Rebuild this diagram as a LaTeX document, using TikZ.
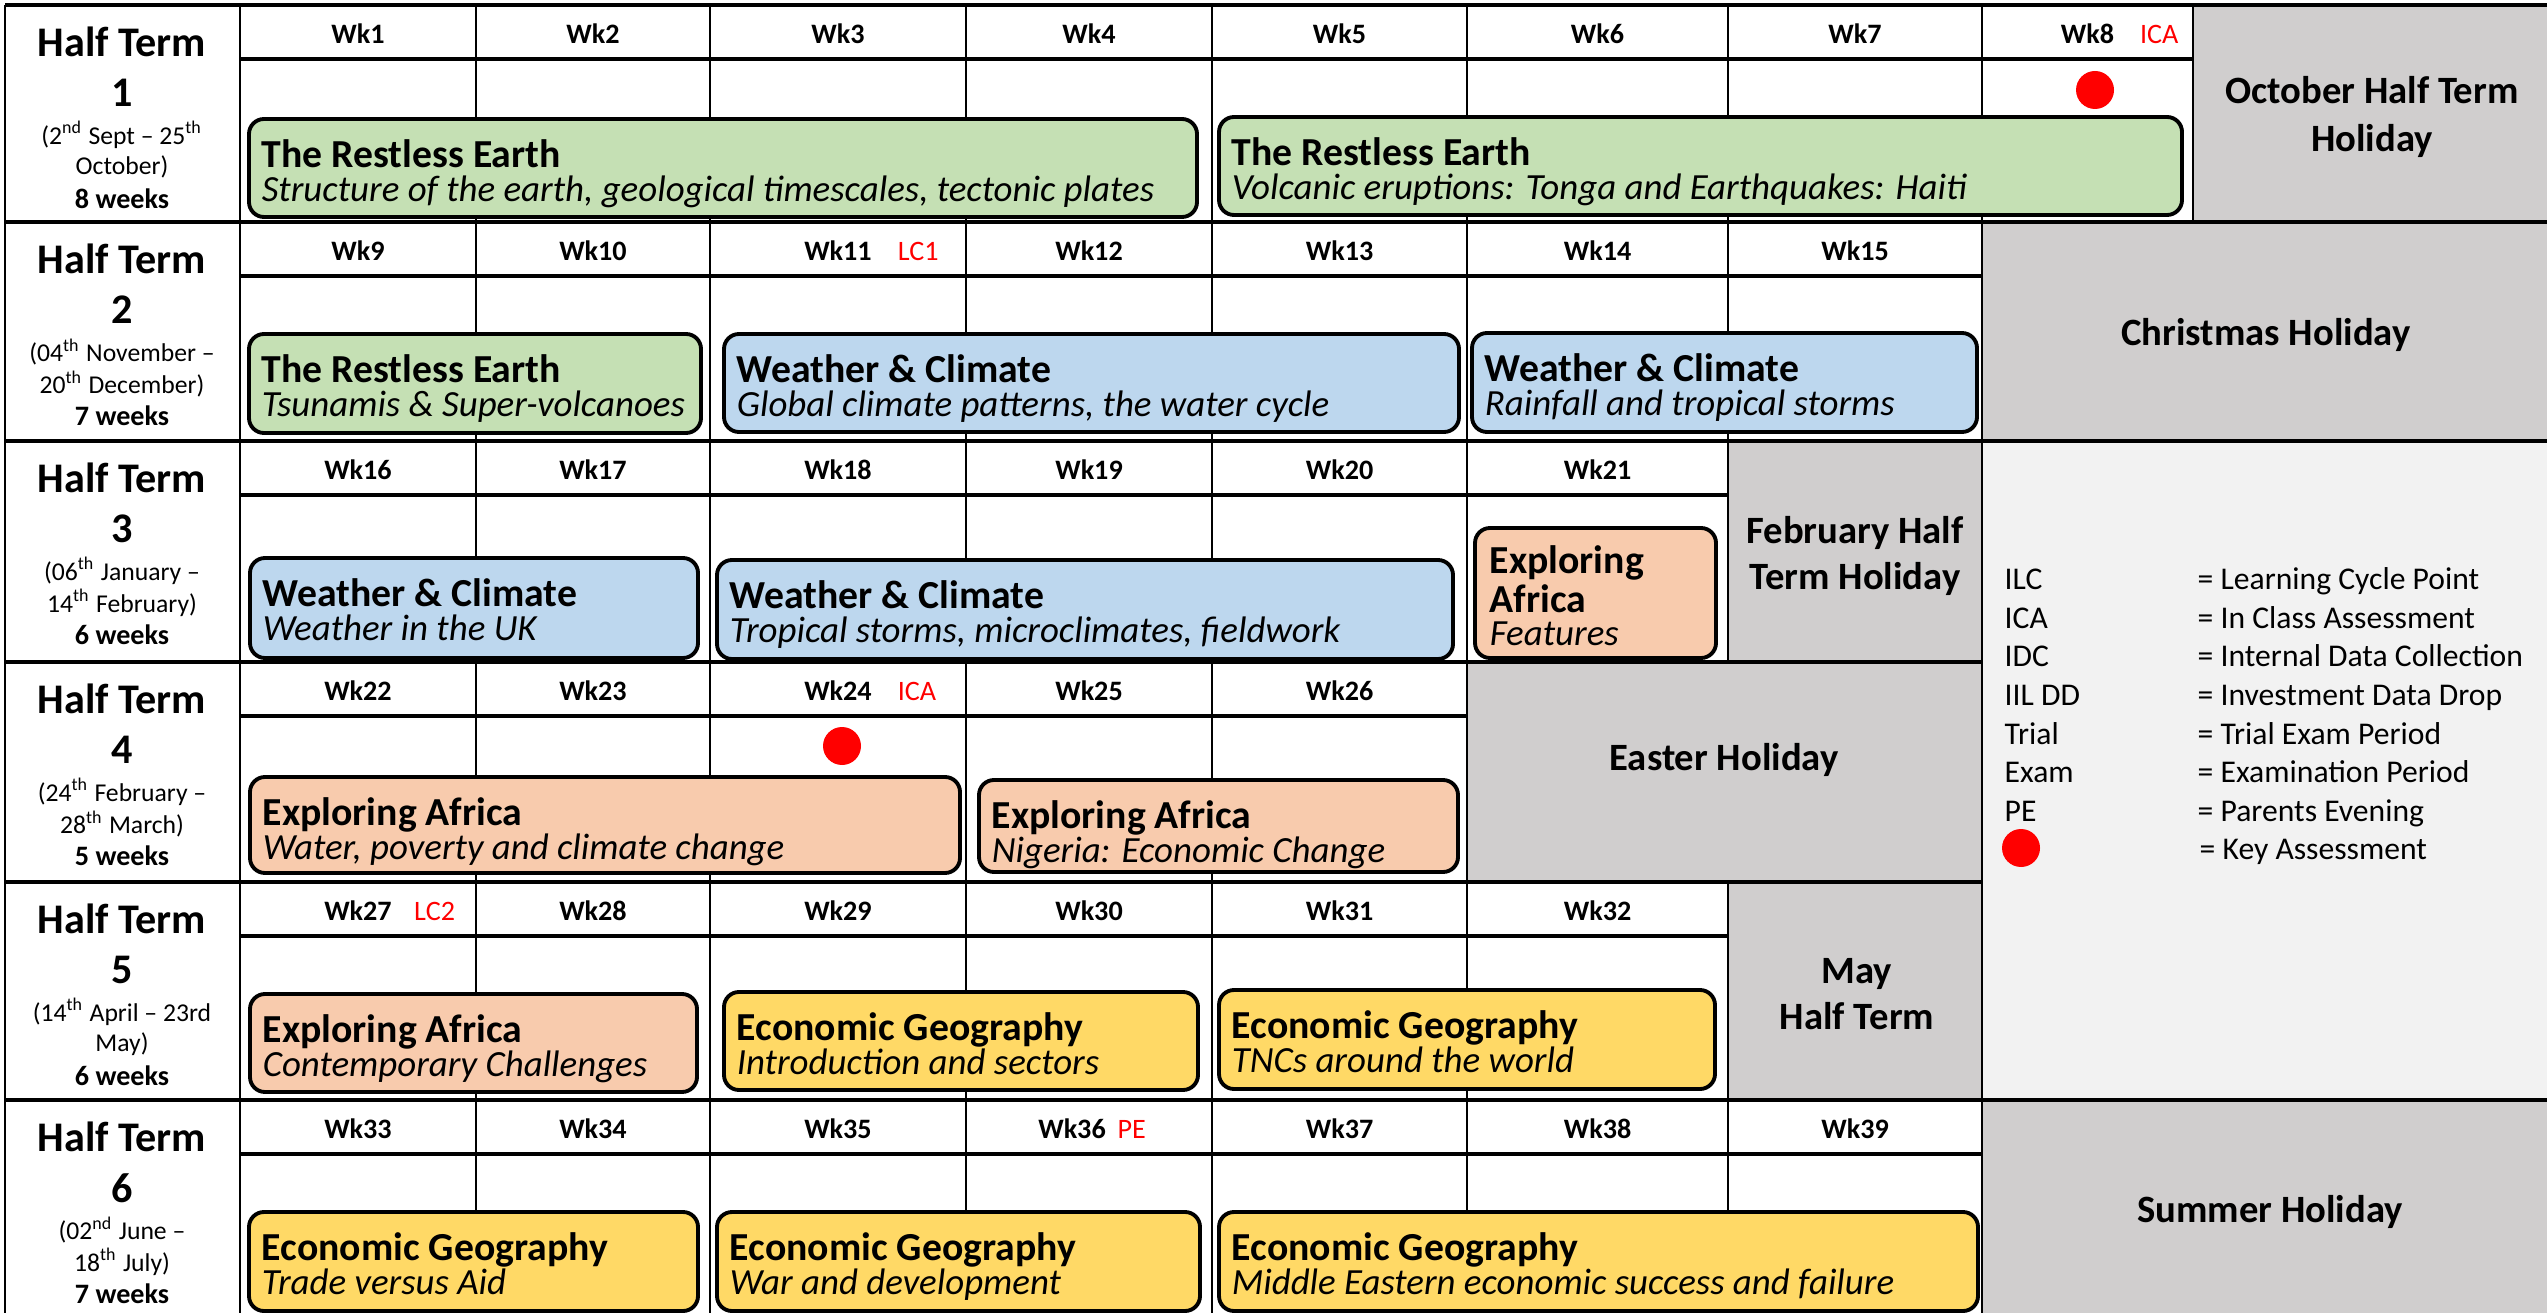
\documentclass[tikz,border=0pt]{standalone}
\usepackage{fontspec}
\setmainfont{Carlito}
\usetikzlibrary{positioning,fit}

\definecolor{earthgreen}{HTML}{C5E0B4}
\definecolor{climateblue}{HTML}{BDD7EE}
\definecolor{africapeach}{HTML}{F8CBAD}
\definecolor{econyellow}{HTML}{FFD966}
\definecolor{holidaygrey}{HTML}{D0CECE}
\definecolor{keygrey}{HTML}{F2F2F2}

\tikzset{
  gridline/.style={line width=0.6pt},
  rowline/.style={line width=0.9pt},
  topicbox/.style={draw, line width=1.1pt, rounded corners=1.5mm, inner sep=0pt},
  topictitle/.style={anchor=base west, inner sep=0pt, font=\bfseries\fontsize{11.3}{13}\selectfont},
  topicsub/.style={anchor=base west, inner sep=0pt, font=\itshape\fontsize{10.5}{13}\selectfont},
  wk/.style={inner sep=0pt, font=\bfseries\fontsize{8}{10}\selectfont},
  wktag/.style={inner sep=0pt, text=red, font=\fontsize{8}{10}\selectfont},
  termhead/.style={inner sep=0pt, font=\bfseries\fontsize{12}{14}\selectfont},
  termdate/.style={inner sep=0pt, font=\fontsize{7.3}{9}\selectfont},
  termweeks/.style={inner sep=0pt, font=\bfseries\fontsize{8}{10}\selectfont},
  holiday/.style={inner sep=0pt, align=center, font=\bfseries\fontsize{11}{13}\selectfont},
  keytext/.style={anchor=base west, inner sep=0pt, font=\fontsize{9}{10}\selectfont},
  keydot/.style={circle, fill=red, inner sep=0pt, minimum size=3.8mm},
}

%% name, x1, y1, x2, y2, colour, title, subtitle
\newcommand{\lessonblock}[8]{%
  \node[topicbox, fill=#6, fit={(#2,#3) (#4,#5)}] (#1) {};
  \node[topictitle] (#1-t) at ([shift={(14,50)}]#1.north west) {#7};
  \node[topicsub] (#1-s) at ([shift={(14,84)}]#1.north west) {#8};
}

\begin{document}
\begin{tikzpicture}[x=0.1mm,y=-0.1mm]
    \clip (0,0) rectangle (2547,1313);
    %% holidays and key
    \fill[holidaygrey] (2193,5) rectangle (2547,222);
    \fill[holidaygrey] (1982,222) rectangle (2547,441);
    \fill[holidaygrey] (1728,441) rectangle (1982,662);
    \fill[keygrey] (1982,441) rectangle (2547,1100);
    \fill[holidaygrey] (1467,662) rectangle (1982,882);
    \fill[holidaygrey] (1728,882) rectangle (1982,1100);
    \fill[holidaygrey] (1982,1100) rectangle (2547,1320);
    %% row lines
    \draw[rowline] (5,5) -- (2547,5);
    \draw[rowline] (5,222) -- (2547,222);
    \draw[rowline] (5,441) -- (2547,441);
    \draw[rowline] (5,662) -- (1982,662);
    \draw[rowline] (5,882) -- (1982,882);
    \draw[rowline] (5,1100) -- (2547,1100);
    \draw[gridline] (5,5) -- (5,1320);
    \draw[gridline] (240,5) -- (240,1320);
    \draw[gridline] (1982,5) -- (1982,1320);
    %% week columns and header line of each half term
    \foreach \rowy/\rowb/\cols/\endx in {5/222/{476,710,966,1212,1467,1728,2193}/2193,
        222/441/{476,710,966,1212,1467,1728}/1982,
        441/662/{476,710,966,1212,1467,1728}/1728,
        662/882/{476,710,966,1212,1467}/1467,
        882/1100/{476,710,966,1212,1467,1728}/1728,
        1100/1320/{476,710,966,1212,1467,1728}/1982}{
      \foreach \x in \cols \draw[gridline] (\x,\rowy) -- (\x,\rowb);
      \draw[rowline] (240,\rowy+54) -- (\endx,\rowy+54);
    }
    %% half term labels
    \foreach \rowy/\num/\dfrom/\dto/\len in {
        5/1/{(2\textsuperscript{nd} Sept -- 25\textsuperscript{th}}/{October)}/8,
        222/2/{(04\textsuperscript{th} November --}/{20\textsuperscript{th} December)}/7,
        441/3/{(06\textsuperscript{th}  January --}/{14\textsuperscript{th} February)}/6,
        662/4/{(24\textsuperscript{th} February --}/{28\textsuperscript{th} March)}/5,
        882/5/{(14\textsuperscript{th} April -- 23rd}/{May)}/6,
        1100/6/{(02\textsuperscript{nd} June --}/{18\textsuperscript{th}  July)}/7}{
      \node[termhead] (term\num) at (122,\rowy+37) {Half Term};
      \node[termhead] (term\num-n) at (122,\rowy+88) {\num};
      \node[termdate] (term\num-a) at (122,\rowy+130) {\dfrom};
      \node[termdate] (term\num-b) at (122,\rowy+162) {\dto};
      \node[termweeks] (term\num-w) at (122,\rowy+194) {\len\ weeks};
    }
    %% week numbers
    \foreach \rowy/\wa/\wb in {5/1/8,222/9/15,441/16/21,662/22/26,882/27/32,1100/33/39}{
      \foreach \w in {\wa,...,\wb}{
        \pgfmathsetmacro\cx{{358,593,838,1089,1339.5,1597.5,1855,2087.5}[int(\w-\wa)]-17*(\w==36)}
        \node[wk] (wk\w) at (\cx,\rowy+29) {Wk\w};
      }
    }
    \node[wktag, right=7pt of wk8] (ica1) {ICA};
    \node[wktag, right=7pt of wk11] (lc1) {LC1};
    \node[wktag, right=7pt of wk24] (ica2) {ICA};
    \node[wktag, right=6pt of wk27] (lc2) {LC2};
    \node[wktag, right=3pt of wk36] (pe) {PE};
    %% key assessments
    \node[keydot] (dot1) at (2095,90) {};
    \node[keydot] (dot2) at (842,746) {};
    %% topics
    \lessonblock{earth1}{249}{119}{1197}{217}{earthgreen}{The Restless Earth}{Structure of the earth, geological timescales, tectonic plates}
    \lessonblock{earth2}{1219}{117}{2182}{215}{earthgreen}{The Restless Earth}{Volcanic eruptions: Tonga and Earthquakes: Haiti}
    \lessonblock{earth3}{249}{334}{701}{433}{earthgreen}{The Restless Earth}{Tsunamis \& Super-volcanoes}
    \lessonblock{climate1}{724}{334}{1459}{432}{climateblue}{Weather \& Climate}{Global climate patterns, the water cycle}
    \lessonblock{climate2}{1472}{333}{1977}{432}{climateblue}{Weather \& Climate}{Rainfall and tropical storms}
    \lessonblock{climate3}{250}{558}{698}{658}{climateblue}{Weather \& Climate}{Weather in the UK}
    \lessonblock{climate4}{717}{560}{1453}{659}{climateblue}{Weather \& Climate}{Tropical storms, microclimates, fieldwork}
    \node[topicbox, fill=africapeach, fit={(1475,528) (1716,658)}] (africa1) {};
    \node[topictitle, align=left, font=\bfseries\fontsize{11.3}{9.2}\selectfont] (africa1-t) at ([shift={(16,86)}]africa1.north west) {Exploring\\Africa};
    \node[topicsub] (africa1-s) at ([shift={(16,119)}]africa1.north west) {Features};
    \lessonblock{africa2}{250}{777}{960}{873}{africapeach}{Exploring Africa}{Water, poverty and climate change}
    \lessonblock{africa3}{979}{780}{1458}{872}{africapeach}{Exploring Africa}{Nigeria: Economic Change}
    \lessonblock{africa4}{250}{994}{697}{1092}{africapeach}{Exploring Africa}{Contemporary Challenges}
    \lessonblock{econ1}{724}{992}{1198}{1090}{econyellow}{Economic Geography}{Introduction and sectors}
    \lessonblock{econ2}{1219}{990}{1715}{1089}{econyellow}{Economic Geography}{TNCs around the world}
    \lessonblock{econ3}{249}{1212}{698}{1311}{econyellow}{Economic Geography}{Trade versus Aid}
    \lessonblock{econ4}{717}{1212}{1200}{1311}{econyellow}{Economic Geography}{War and development}
    \lessonblock{econ5}{1219}{1212}{1978}{1311}{econyellow}{Economic Geography}{Middle Eastern economic success and failure}
    %% holidays
    \node[holiday, font=\bfseries\fontsize{11}{13.9}\selectfont] (october) at (2372,117) {October Half Term\\Holiday};
    \node[holiday] (christmas) at (2266,335) {Christmas Holiday};
    \node[holiday] (february) at (1855,556) {February Half\\Term Holiday};
    \node[holiday] (easter) at (1724,760) {Easter Holiday};
    \node[holiday] (may) at (1857,994) {May\\Half Term};
    \node[holiday] (summer) at (2270,1212) {Summer Holiday};
    %% key
    \foreach \abbr/\desc [count=\i] in {ILC/Learning Cycle Point, ICA/In Class Assessment,
        IDC/Internal Data Collection, IIL DD/Investment Data Drop, Trial/Trial Exam Period,
        Exam/Examination Period, PE/Parents Evening}{
      \node[keytext] (key\i) at (2004,{590+38.5*(\i-1)}) {\abbr};
      \node[keytext] (key\i-d) at (2197,{590+38.5*(\i-1)}) {= \desc};
    }
    \node[keydot] (key8) at (2021,848) {};
    \node[keytext] (key8-d) at (2199,859) {= Key Assessment};
\end{tikzpicture}
\end{document}
